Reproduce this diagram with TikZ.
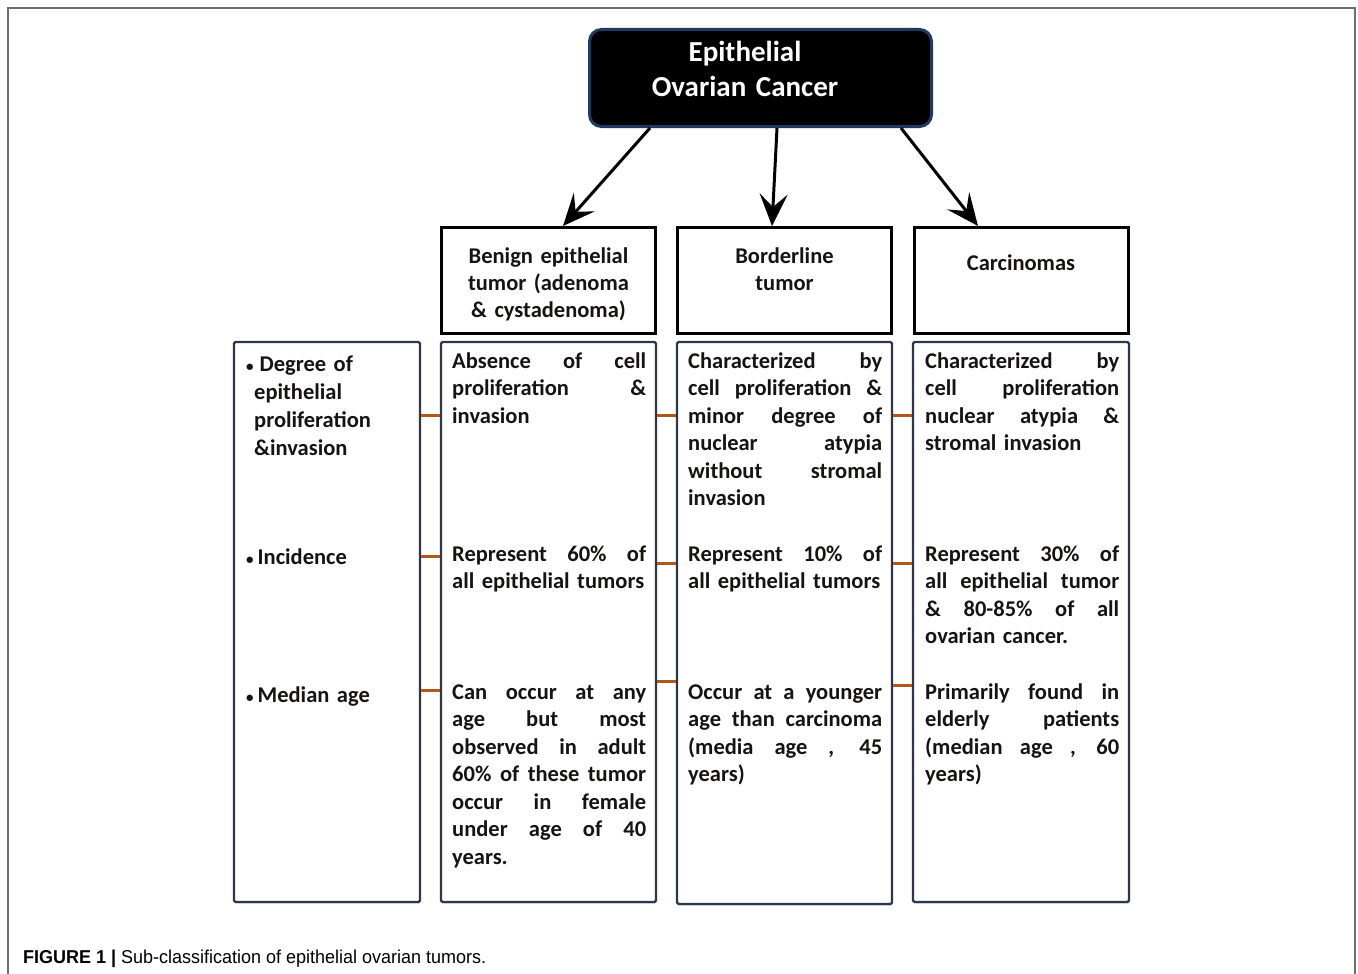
\documentclass[tikz,border=0pt]{standalone}
\usepackage{graphicx}
\usepackage{fontspec}
\setmainfont{Carlito}
\newfontfamily\capfont{Liberation Sans}
\usetikzlibrary{arrows.meta,shadows}
\definecolor{boxline}{RGB}{44,56,74}
\definecolor{conn}{RGB}{178,86,26}
\definecolor{topline}{RGB}{30,58,96}
\definecolor{framec}{RGB}{110,110,110}
\definecolor{txt}{RGB}{22,20,18}
\definecolor{shadowc}{RGB}{150,170,200}
\newcommand{\J}[1]{{\spaceskip=0.2em plus 1fil\xspaceskip=\spaceskip\makebox[194pt][s]{#1}}}
\begin{document}
\begin{tikzpicture}[x=1pt,y=-1pt,
  hdr/.style={draw=black, line width=3pt, minimum width=214pt, minimum height=106pt, inner sep=0pt},
  cbox/.style={draw=boxline, fill=white, line width=2.2pt, rounded corners=1.5pt, inner sep=0pt,
    drop shadow={shadow xshift=0.6pt, shadow yshift=-1.4pt, fill=shadowc, opacity=0.8}},
  body/.style={anchor=base west, text width=194pt, align=left, inner sep=0pt,
    font=\fontsize{22.5}{27.5}\bfseries\selectfont, text=txt},
  hdrtext/.style={anchor=base, text width=214pt, align=center, inner sep=0pt,
    font=\fontsize{22.5}{27.3}\bfseries\selectfont, text=txt},
  lbl/.style={anchor=base west, text width=175pt, align=left, inner sep=0pt,
    font=\fontsize{22.5}{28}\bfseries\selectfont, text=txt},
  arr/.style={line width=3pt, -{Stealth[length=32pt, width=28pt, inset=13pt]}},
  link/.style={draw=conn, line width=3pt},
]
\useasboundingbox (0,0) rectangle (1358,974);
\fill[white] (0,0) rectangle (1358,974);
% outer frame
\draw[framec, line width=2pt] (8,974) -- (8,8) -- (1355,8) -- (1355,974);

% top node
\node[draw=topline, fill=black, line width=3pt, rounded corners=12pt,
  minimum width=342pt, minimum height=97pt, inner sep=0pt] (top) at (760.5,78) {};
\node[anchor=base, text width=320pt, align=center, inner sep=0pt, text=white,
  font=\fontsize{29}{35}\bfseries\selectfont] (toptext) at (745,62) {Epithelial\\Ovarian Cancer};

% header boxes
\node[hdr] (hben) at (548.5,280.5) {};
\node[hdr] (hbor) at (784.5,280.5) {};
\node[hdr] (hcar) at (1021,280.5) {};
\node[hdrtext] (tben) at (548.5,263) {Benign epithelial\\tumor (adenoma\\\& cystadenoma)};
\node[hdrtext] (tbor) at (784.5,263) {Borderline\\tumor};
\node[hdrtext] (tcar) at (1021,270) {Carcinomas};

% arrows
\draw[arr] ([xshift=-110.5pt]top.south) -- ([xshift=14.5pt]hben.north);
\draw[arr] ([xshift=16.5pt]top.south) -- ([xshift=-12.5pt]hbor.north);
\draw[arr] ([xshift=140.5pt]top.south) -- ([xshift=-43pt]hcar.north);

% content boxes
\node[cbox, minimum width=186pt, minimum height=560pt] (lab) at (327,622) {};
\node[cbox, minimum width=215pt, minimum height=560pt] (ben) at (548.5,622) {};
\node[cbox, minimum width=215pt, minimum height=562pt] (bor) at (784.5,623) {};
\node[cbox, minimum width=216pt, minimum height=560pt] (car) at (1021,622) {};

% connectors
\draw[link] (lab.east |- 0,415) -- (ben.west |- 0,415);
\draw[link] (lab.east |- 0,556) -- (ben.west |- 0,556);
\draw[link] (lab.east |- 0,690) -- (ben.west |- 0,690);
\draw[link] (ben.east |- 0,415) -- (bor.west |- 0,415);
\draw[link] (ben.east |- 0,563) -- (bor.west |- 0,563);
\draw[link] (ben.east |- 0,681) -- (bor.west |- 0,681);
\draw[link] (bor.east |- 0,415) -- (car.west |- 0,415);
\draw[link] (bor.east |- 0,563) -- (car.west |- 0,563);
\draw[link] (bor.east |- 0,685) -- (car.west |- 0,685);

% label texts
\node[lbl] (l1) at (246,371) {{\fontsize{15}{15}\selectfont\textbullet}\hspace{6pt}Degree of\\\hspace{8pt}epithelial\\\hspace{8pt}proliferation\\\hspace{8pt}\&invasion};
\node[lbl] (l2) at (246,564) {{\fontsize{15}{15}\selectfont\textbullet}\hspace{4pt}Incidence};
\node[lbl] (l3) at (246,702) {{\fontsize{15}{15}\selectfont\textbullet}\hspace{4pt}Median age};

% benign texts
\node[body] (b1) at (452,368) {\J{Absence of cell}\\\J{proliferation \&}\\invasion};
\node[body] (b2) at (452,561) {\J{Represent 60\% of}\\all epithelial tumors};
\node[body] (b3) at (452,699) {\J{Can occur at any}\\\J{age but most}\\\J{observed in adult}\\\J{60\% of these tumor}\\\J{occur in female}\\\J{under age of 40}\\years.};

% borderline texts
\node[body] (d1) at (688,368) {\J{Characterized by}\\\J{cell proliferation \&}\\\J{minor degree of}\\\J{nuclear atypia}\\\J{without stromal}\\invasion};
\node[body] (d2) at (688,561) {\J{Represent 10\% of}\\all epithelial tumors};
\node[body] (d3) at (688,699) {\J{Occur at a younger}\\\J{age than carcinoma}\\\J{(media age , 45}\\years)};

% carcinoma texts
\node[body] (c1) at (925,368) {\J{Characterized by}\\\J{cell proliferation}\\\J{nuclear atypia \&}\\stromal invasion};
\node[body] (c2) at (925,561) {\J{Represent 30\% of}\\\J{all epithelial tumor}\\\J{\& 80-85\% of all}\\ovarian cancer.};
\node[body] (c3) at (925,699) {\J{Primarily found in}\\\J{elderly patients}\\\J{(median age , 60}\\years)};

% caption
\node[anchor=base west, inner sep=0pt] (cap) at (23,963)
  {\resizebox{463pt}{13.5pt}{\capfont\textbf{FIGURE 1 |} Sub-classification of epithelial ovarian tumors.}};
\end{tikzpicture}
\end{document}
